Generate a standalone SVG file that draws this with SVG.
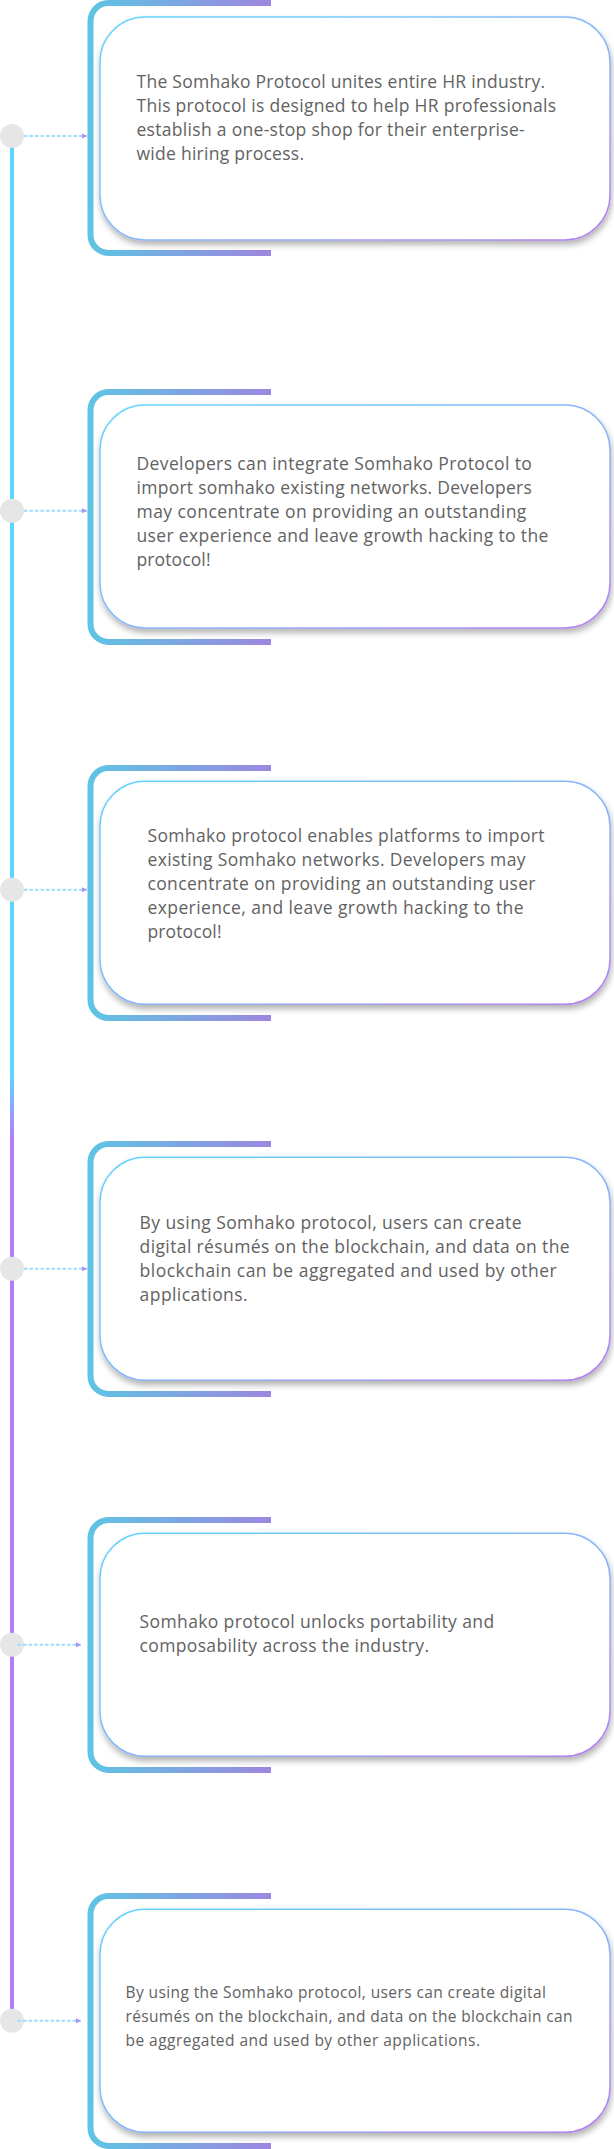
<svg xmlns="http://www.w3.org/2000/svg" width="614" height="2149" viewBox="0 0 614 2149">
<style>
.bracket{fill:none;stroke:url(#bracketGrad);stroke-width:6}
.card{fill:#ffffff;stroke:url(#cardGrad);stroke-width:1.5;filter:url(#shadow)}
.dot{fill:#e6e6e6}
.txt{font-family:"Open Sans","Noto Sans","Liberation Sans",sans-serif;font-size:17.5px;fill:#626262}
.txt.small{font-size:15.5px}
.link{fill:none;stroke:#9edcfd;stroke-width:2;stroke-dasharray:3.5 2;marker-end:url(#arrow)}
</style>
<defs>
<linearGradient id="lineGrad" gradientUnits="userSpaceOnUse" x1="0" y1="1075" x2="0" y2="1140">
<stop offset="0" stop-color="#5bd6fd"/>
<stop offset="1" stop-color="#b87bf8"/>
</linearGradient>
<linearGradient id="bracketGrad" x1="0" y1="0" x2="1" y2="0">
<stop offset="0" stop-color="#5ec4e3"/>
<stop offset="1" stop-color="#9d86e1"/>
</linearGradient>
<linearGradient id="cardGrad" x1="0" y1="0" x2="1" y2="1">
<stop offset="0" stop-color="#66d6fd"/>
<stop offset="0.6" stop-color="#8fb2f7"/>
<stop offset="1" stop-color="#b67cf2"/>
</linearGradient>
<filter id="shadow" x="-10%" y="-10%" width="125%" height="130%">
<feDropShadow dx="1" dy="4" stdDeviation="3" flood-color="#000" flood-opacity="0.3"/>
</filter>
<marker id="arrow" markerUnits="userSpaceOnUse" markerWidth="6" markerHeight="6" refX="5" refY="3" orient="auto">
<path d="M0,0.5 L5,3 L0,5.5 z" fill="#a992f3"/>
</marker>
</defs>

<g id="timeline">
<line x1="12" y1="136" x2="12" y2="2009" stroke="url(#lineGrad)" stroke-width="4"/>
</g>

<g id="node1">
<path class="bracket" d="M271 3 H108.5 A18 18 0 0 0 90.5 21 V235 A18 18 0 0 0 108.5 253 H271"/>
<rect class="card" x="100" y="17" width="510" height="223" rx="45"/>
<circle class="dot" cx="12" cy="136" r="12"/>
<text class="txt" x="136.5" y="88.3" textLength="408.6" lengthAdjust="spacing">The Somhako Protocol unites entire HR industry.</text>
<text class="txt" x="136.5" y="112.3" textLength="419.6" lengthAdjust="spacing">This protocol is designed to help HR professionals</text>
<text class="txt" x="136.5" y="136.3" textLength="388.2" lengthAdjust="spacing">establish a one-stop shop for their enterprise-</text>
<text class="txt" x="136.5" y="160.3" textLength="167.5" lengthAdjust="spacing">wide hiring process.</text>
</g>

<g id="node2">
<path class="bracket" d="M271 392 H108.5 A18 18 0 0 0 90.5 410 V624 A18 18 0 0 0 108.5 642 H271"/>
<rect class="card" x="100" y="405" width="510" height="223" rx="45"/>
<circle class="dot" cx="12" cy="510.7" r="12"/>
<text class="txt" x="136.5" y="470" textLength="395.3" lengthAdjust="spacing">Developers can integrate Somhako Protocol to</text>
<text class="txt" x="136.5" y="494" textLength="395.3" lengthAdjust="spacing">import somhako existing networks. Developers</text>
<text class="txt" x="136.5" y="518" textLength="389.8" lengthAdjust="spacing">may concentrate on providing an outstanding</text>
<text class="txt" x="136.5" y="542" textLength="411.8" lengthAdjust="spacing">user experience and leave growth hacking to the</text>
<text class="txt" x="136.5" y="566" textLength="74" lengthAdjust="spacing">protocol!</text>
</g>

<g id="node3">
<path class="bracket" d="M271 768 H108.5 A18 18 0 0 0 90.5 786 V1000 A18 18 0 0 0 108.5 1018 H271"/>
<rect class="card" x="100" y="781.3" width="510" height="223" rx="45"/>
<circle class="dot" cx="12" cy="889.7" r="12"/>
<text class="txt" x="147.5" y="842.3" textLength="397" lengthAdjust="spacing">Somhako protocol enables platforms to import</text>
<text class="txt" x="147.5" y="866.3" textLength="378" lengthAdjust="spacing">existing Somhako networks. Developers may</text>
<text class="txt" x="147.5" y="890.3" textLength="388" lengthAdjust="spacing">concentrate on providing an outstanding user</text>
<text class="txt" x="147.5" y="914.3" textLength="376" lengthAdjust="spacing">experience, and leave growth hacking to the</text>
<text class="txt" x="147.5" y="938.3" textLength="74" lengthAdjust="spacing">protocol!</text>
</g>

<g id="node4">
<path class="bracket" d="M271 1144 H108.5 A18 18 0 0 0 90.5 1162 V1376 A18 18 0 0 0 108.5 1394 H271"/>
<rect class="card" x="100" y="1157.3" width="510" height="223" rx="45"/>
<circle class="dot" cx="12" cy="1268.7" r="12"/>
<text class="txt" x="139.6" y="1229" textLength="382" lengthAdjust="spacing">By using Somhako protocol, users can create</text>
<text class="txt" x="139.6" y="1253" textLength="430" lengthAdjust="spacing">digital résumés on the blockchain, and data on the</text>
<text class="txt" x="139.6" y="1277" textLength="417" lengthAdjust="spacing">blockchain can be aggregated and used by other</text>
<text class="txt" x="139.6" y="1301" textLength="108" lengthAdjust="spacing">applications.</text>
</g>

<g id="node5">
<path class="bracket" d="M271 1520 H108.5 A18 18 0 0 0 90.5 1538 V1752 A18 18 0 0 0 108.5 1770 H271"/>
<rect class="card" x="100" y="1533.3" width="510" height="223" rx="45"/>
<circle class="dot" cx="12" cy="1644.7" r="12"/>
<text class="txt" x="139.6" y="1628.3" textLength="354.5" lengthAdjust="spacing">Somhako protocol unlocks portability and</text>
<text class="txt" x="139.6" y="1652.3" textLength="289.4" lengthAdjust="spacing">composability across the industry.</text>
</g>

<g id="node6">
<path class="bracket" d="M271 1896 H108.5 A18 18 0 0 0 90.5 1914 V2128 A18 18 0 0 0 108.5 2146 H271"/>
<rect class="card" x="100" y="1909.3" width="510" height="223" rx="45"/>
<circle class="dot" cx="12" cy="2020.7" r="12"/>
<text class="txt small" x="125.5" y="1998" textLength="420.4" lengthAdjust="spacing">By using the Somhako protocol, users can create digital</text>
<text class="txt small" x="125.5" y="2022" textLength="447" lengthAdjust="spacing">résumés on the blockchain, and data on the blockchain can</text>
<text class="txt small" x="125.5" y="2046" textLength="354.5" lengthAdjust="spacing">be aggregated and used by other applications.</text>
</g>

<g id="connectors">
<line class="link" x1="24" y1="136" x2="87" y2="136"/>
<line class="link" x1="24" y1="510.7" x2="87" y2="510.7"/>
<line class="link" x1="24" y1="889.7" x2="87" y2="889.7"/>
<line class="link" x1="24" y1="1268.7" x2="87" y2="1268.7"/>
<line class="link" x1="17.6" y1="1644.7" x2="81" y2="1644.7"/>
<line class="link" x1="17.6" y1="2020.7" x2="81" y2="2020.7"/>
</g>
</svg>
